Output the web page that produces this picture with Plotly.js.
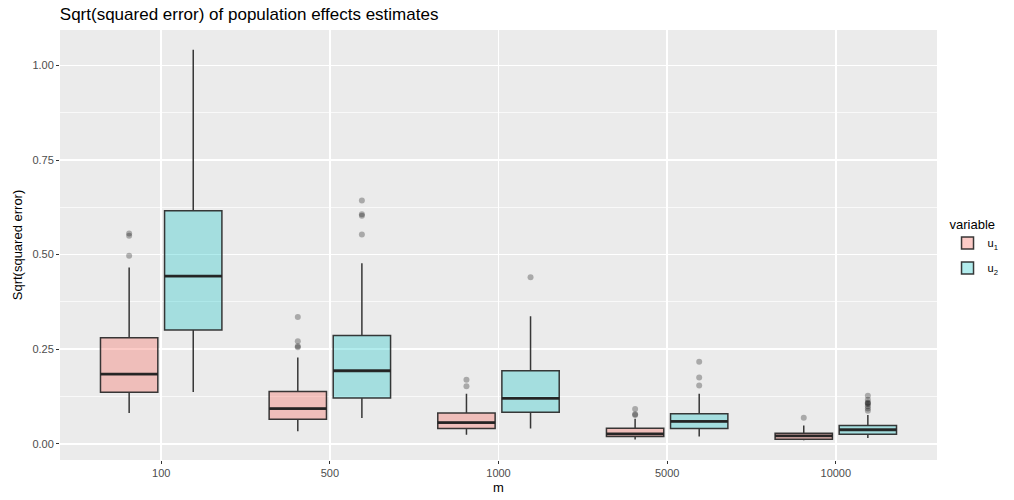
<!DOCTYPE html>
<html>
<head>
<meta charset="utf-8">
<script src="https://cdn.plot.ly/plotly-3.0.1.min.js"></script>
<style>html,body{margin:0;padding:0;background:#fff;}#chart{width:1014px;height:500px;}</style>
</head>
<body>
<div id="chart"></div>
<script>
const categories = ['100', '500', '1000', '5000', '10000'];
const yTickVals = [0, 0.25, 0.5, 0.75, 1.0];
const yTickText = ['0.00', '0.25', '0.50', '0.75', '1.00'];

// u1 (pink)
const u1Lower = [0.081, 0.033, 0.024, 0.011, 0.009];
const u1Q1 = [0.136, 0.065, 0.040, 0.019, 0.012];
const u1Median = [0.184, 0.093, 0.056, 0.026, 0.021];
const u1Q3 = [0.280, 0.138, 0.081, 0.041, 0.028];
const u1Upper = [0.466, 0.228, 0.132, 0.066, 0.048];
const u1Outliers = [[0.497, 0.550, 0.556], [0.255, 0.258, 0.271, 0.335], [0.152, 0.169], [0.076, 0.078, 0.092], [0.069]];

// u2 (teal)
const u2Lower = [0.137, 0.068, 0.040, 0.019, 0.015];
const u2Q1 = [0.301, 0.121, 0.083, 0.040, 0.025];
const u2Median = [0.443, 0.193, 0.120, 0.059, 0.037];
const u2Q3 = [0.616, 0.286, 0.193, 0.079, 0.048];
const u2Upper = [1.042, 0.477, 0.337, 0.132, 0.076];
const u2Outliers = [[], [0.553, 0.603, 0.607, 0.643], [0.440], [0.154, 0.175, 0.217], [0.087, 0.093, 0.099, 0.105, 0.107, 0.109, 0.116, 0.127]];

const dodge = 0.19, boxW = 0.34;
const lineCol = 'rgba(35,35,35,0.9)';

function boxTrace(name, off, lo, q1, med, q3, up, fill) {
  return {
    type: 'box', name: name, legendgroup: name,
    x: categories.map((c, i) => i + off),
    lowerfence: lo, q1: q1, median: med, q3: q3, upperfence: up,
    width: boxW, boxpoints: false, whiskerwidth: 0,
    fillcolor: fill, line: {color: lineCol, width: 1.5},
    hoverinfo: 'y'
  };
}
function medianTrace(name, off, med) {
  const xs = [], ys = [];
  med.forEach((v, i) => { xs.push(i + off - boxW / 2, i + off + boxW / 2, null); ys.push(v, v, null); });
  return {type: 'scatter', mode: 'lines', x: xs, y: ys, showlegend: false, legendgroup: name,
          line: {color: 'rgba(35,35,35,0.95)', width: 2.8}, hoverinfo: 'skip'};
}
function outlierTrace(name, off, outs) {
  const xs = [], ys = [];
  outs.forEach((arr, i) => arr.forEach(v => { xs.push(i + off); ys.push(v); }));
  return {
    type: 'scatter', mode: 'markers', x: xs, y: ys, showlegend: false, legendgroup: name,
    marker: {color: 'rgba(0,0,0,0.28)', size: 6, line: {width: 0}}, hoverinfo: 'y'
  };
}

const data = [
  boxTrace('u<sub>1</sub>', -dodge, u1Lower, u1Q1, u1Median, u1Q3, u1Upper, 'rgba(248,118,109,0.38)'),
  boxTrace('u<sub>2</sub>', dodge, u2Lower, u2Q1, u2Median, u2Q3, u2Upper, 'rgba(0,191,196,0.3)'),
  medianTrace('u<sub>1</sub>', -dodge, u1Median),
  medianTrace('u<sub>2</sub>', dodge, u2Median),
  outlierTrace('u<sub>1</sub>', -dodge, u1Outliers),
  outlierTrace('u<sub>2</sub>', dodge, u2Outliers)
];

const layout = {
  width: 1014, height: 500,
  margin: {l: 60, r: 77, t: 30, b: 40, autoexpand: false},
  paper_bgcolor: '#ffffff', plot_bgcolor: '#EBEBEB',
  font: {family: 'Liberation Sans, Arial, sans-serif', color: '#000'},
  title: {text: 'Sqrt(squared error) of population effects estimates', x: 0.059, xanchor: 'left', xref: 'container',
          y: 0.972, yanchor: 'middle', yref: 'container', font: {size: 17, color: '#000'}},
  xaxis: {
    range: [-0.6, 4.6], tickmode: 'array', tickvals: categories.map((c, i) => i), ticktext: categories,
    showgrid: true, gridcolor: '#ffffff', gridwidth: 1.6, zeroline: false, showline: false,
    ticks: 'outside', ticklen: 3, tickcolor: '#333333', tickwidth: 1, automargin: false,
    tickfont: {size: 11, color: '#4D4D4D'},
    title: {text: 'm', font: {size: 13, color: '#000'}, standoff: 4}
  },
  yaxis: {
    range: [-0.043, 1.094], tickmode: 'array', tickvals: yTickVals, ticktext: yTickText,
    showgrid: true, gridcolor: '#ffffff', gridwidth: 1.6, zeroline: false, showline: false,
    ticks: 'outside', ticklen: 3, tickcolor: '#333333', tickwidth: 1, automargin: false,
    tickfont: {size: 11, color: '#4D4D4D'},
    minor: {tickmode: 'array', tickvals: [0.125, 0.375, 0.625, 0.875], showgrid: true, gridcolor: '#ffffff', gridwidth: 0.7, ticks: ''},
    title: {text: 'Sqrt(squared error)', font: {size: 13, color: '#000'}, standoff: 6}
  },
  boxmode: 'overlay',
  showlegend: true,
  legend: {
    x: 1.012, xanchor: 'left', y: 0.495, yanchor: 'middle',
    title: {text: 'variable', font: {size: 13, color: '#000'}},
    font: {size: 11, color: '#000'}, bgcolor: 'rgba(0,0,0,0)', tracegroupgap: 6
  }
};

Plotly.newPlot('chart', data, layout, {displayModeBar: false, staticPlot: true});
</script>
</body>
</html>
